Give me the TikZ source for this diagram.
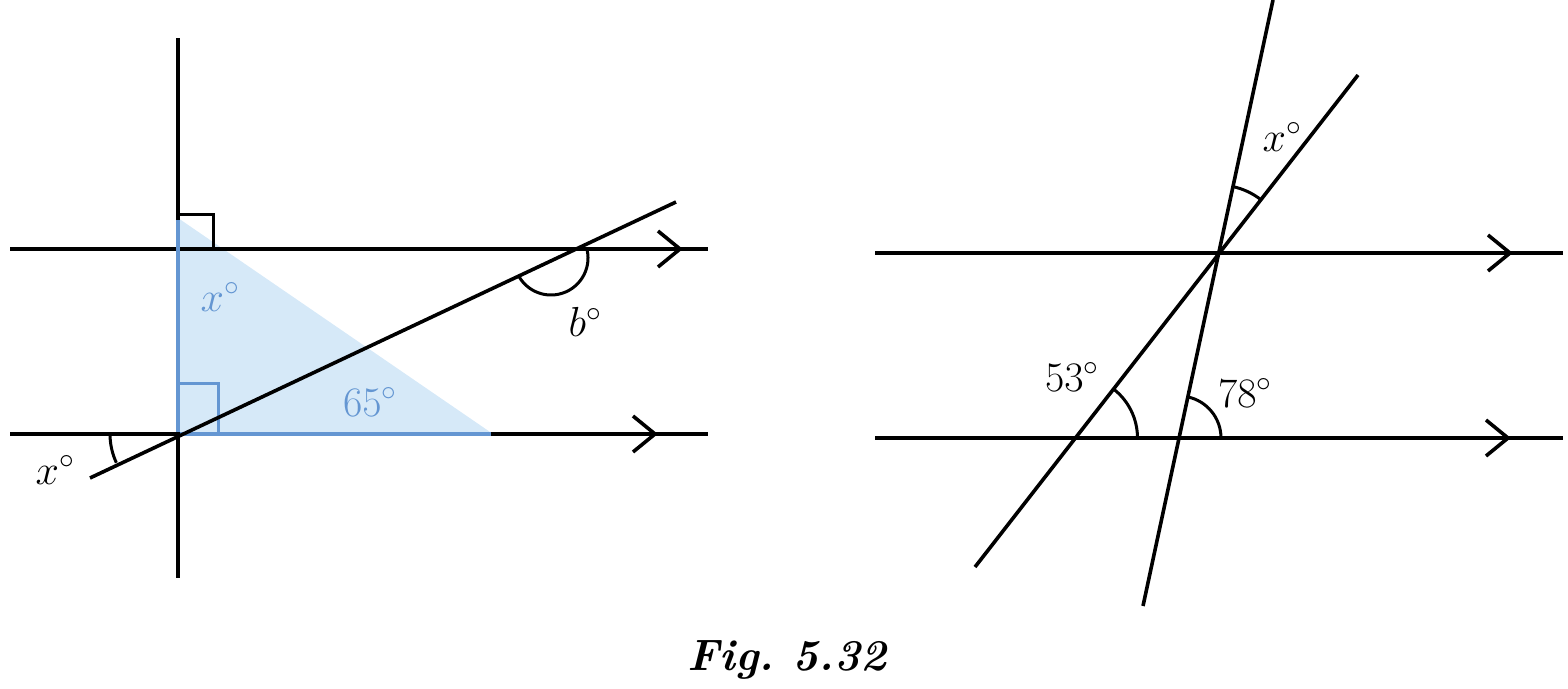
\RequirePackage{fix-cm}
\documentclass[tikz,border=0pt]{standalone}
\usetikzlibrary{calc}
\definecolor{lb}{RGB}{214,233,248}
\definecolor{bl}{RGB}{100,150,210}
\begin{document}
\begin{tikzpicture}[x=1pt,y=-1pt,
  ln/.style={line width=3.6pt,line cap=butt},
  ang/.style={line width=3pt},
  lab/.style={font=\fontsize{42}{48}\selectfont},
  chev/.style={line width=3.6pt}]
\useasboundingbox (0,0) rectangle (1568,688);
% left figure
\coordinate (T1) at (178,218); \coordinate (O) at (178,434); \coordinate (R1) at (493,434);
\fill[lb] (T1) -- (O) -- (R1) -- cycle;
\draw[ln] (178,38) -- (178,578);
\draw[ln] (10,249) -- (708,249);
\draw[ln] (10,434) -- (708,434);
\draw[chev] (658,231) -- (680,249) -- (658,267);
\draw[chev] (633,416) -- (655,434) -- (633,452);
\draw[ln,bl] (178,220) -- (178,432);
\draw[ln,bl] (180,434) -- (491,434);
\draw[ang] (178,214) -- (213,214) -- (213,249);
\draw[ang,bl] (178,383) -- (218,383) -- (218,434);
\draw[ln] (90,478) -- (676,202);
\draw[ang] ($(551,258)+(12:37pt)$) arc[start angle=12,end angle=-153,radius=37pt];
\draw[ang] ($(O)+(180:68pt)$) arc[start angle=180,end angle=205,radius=68pt];
\node[lab,text=bl] (xa) at (220,297) {$x^\circ$};
\node[lab,text=bl] (s65) at (370,402) {$65^\circ$};
\node[lab] (bb) at (585,322) {$b^\circ$};
\node[lab] (xb) at (55,470) {$x^\circ$};
% right figure
\draw[ln] (875,253) -- (1563,253);
\draw[ln] (875,438) -- (1563,438);
\draw[chev] (1488,235) -- (1510,253) -- (1488,271);
\draw[chev] (1486,420) -- (1508,438) -- (1486,456);
\draw[ln] (1273,0) -- (1143,606);
\draw[ln] (1358,75) -- (975,567);
\draw[ang] ($(1218,255)+(52:70pt)$) arc[start angle=52,end angle=77.6,radius=70pt];
\draw[ang] ($(1075.5,438)+(0:62pt)$) arc[start angle=0,end angle=52,radius=62pt];
\draw[ang] ($(1179,438)+(0:42pt)$) arc[start angle=0,end angle=77.6,radius=42pt];
\node[lab] (xc) at (1282,137) {$x^\circ$};
\node[lab] (s53) at (1072,377) {$53^\circ$};
\node[lab] (s78) at (1245,393) {$78^\circ$};
\node[font=\fontsize{44}{50}\selectfont\bfseries\itshape] (cap) at (787,660) {Fig.\ 5.32};
\end{tikzpicture}
\end{document}
